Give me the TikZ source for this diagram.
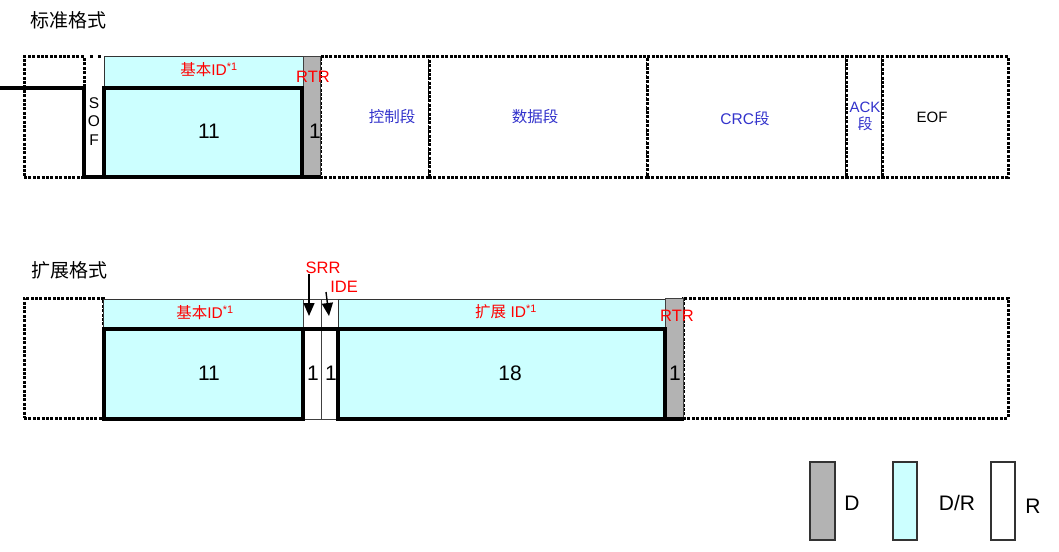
\documentclass[tikz,border=0pt]{standalone}
\usepackage{fontspec}
\setmainfont{Liberation Sans}
\newfontfamily\cjk{Noto Sans CJK SC}
\usetikzlibrary{fit,arrows.meta}
\definecolor{cyanfill}{HTML}{CCFFFF}
\definecolor{grayfill}{HTML}{B3B3B3}
\definecolor{bluetxt}{HTML}{3333CC}
\newcommand\bx[6]{\node[#1, fit={(#3,#4) (#5,#6)}] (#2) {};}
\begin{document}
\begin{tikzpicture}[x=1pt,y=-1pt,
  dotbox/.style={draw, line width=3pt, dash pattern=on 3pt off 1.4pt, inner sep=0pt, fill=white},
  band/.style={draw=black!80, line width=1pt, fill=cyanfill, inner sep=0pt},
  thickbox/.style={draw, line width=3.8pt, fill=cyanfill, inner sep=0pt},
  graycol/.style={draw=black!75, line width=1pt, fill=grayfill, inner sep=0pt},
  whitecol/.style={draw=black!75, line width=1pt, fill=white, inner sep=0pt},
  legbox/.style={draw=black!80, line width=1.3pt, inner sep=0pt},
  thickline/.style={line width=3.8pt},
  redlbl/.style={text=red, inner sep=0pt, font=\fontsize{15.5}{15.5}\selectfont},
  bluelbl/.style={text=bluetxt, inner sep=0pt, font=\fontsize{15.5}{15.5}\selectfont},
  numlbl/.style={inner sep=0pt, font=\fontsize{21}{21}\selectfont},
  titlelbl/.style={inner sep=0pt, anchor=west, font=\fontsize{19}{19}\selectfont\cjk},
  leglbl/.style={inner sep=0pt, font=\fontsize{21}{21}\selectfont},
  arr/.style={line width=1.4pt, -{Triangle[length=13pt,width=11pt]}}]
\useasboundingbox (0,0) rectangle (1059,551);

% ---------- standard format ----------
\node[titlelbl] (t1) at (30,20) {标准格式};
\bx{dotbox}{s0}{24}{57}{84}{177}
\bx{dotbox}{sctl}{320}{57}{429}{177}
\bx{dotbox}{sdat}{429}{57}{647}{177}
\bx{dotbox}{scrc}{647}{57}{846}{177}
\bx{dotbox}{sack}{846}{57}{882}{177}
\bx{dotbox}{seof}{882}{57}{1008}{177}
\bx{band}{sidband}{104}{57}{303}{87}
\bx{graycol}{srtr}{303}{57}{320}{177}
\bx{thickbox}{sid}{104}{88}{302}{177}
\draw[thickline] (0,88) -- (84,88) -- (84,177) -- (104,177);
\draw[thickline] (302,177) -- (321,177);
\draw[line width=3pt, dash pattern=on 3pt off 5pt] (90,57) -- (102,57);

\node[inner sep=0pt, font=\fontsize{15.5}{15.5}\selectfont] (sS) at (94,103) {S};
\node[inner sep=0pt, font=\fontsize{15.5}{15.5}\selectfont] (sO) at (94,121) {O};
\node[inner sep=0pt, font=\fontsize{15.5}{15.5}\selectfont] (sF) at (94,140) {F};
\node[redlbl] (sidl) at (209,70) {{\cjk 基本}ID\textsuperscript{*1}};
\node[redlbl, font=\fontsize{16.5}{16.5}\selectfont] (srtrl) at (313,77) {RTR};
\node[numlbl] (s11) at (209,131) {11};
\node[numlbl] (s1) at (315,131) {1};
\node[bluelbl] (sctll) at (392,117) {\cjk 控制段};
\node[bluelbl] (sdatl) at (535,117) {\cjk 数据段};
\node[bluelbl] (scrcl) at (745,119) {CRC{\cjk 段}};
\node[bluelbl, align=center, font=\fontsize{15}{17}\selectfont] (sackl) at (865,116) {ACK\\{\cjk 段}};
\node[inner sep=0pt, font=\fontsize{15}{15}\selectfont] (seofl) at (932,117) {EOF};

% ---------- extended format ----------
\node[titlelbl] (t2) at (31,270) {扩展格式};
\bx{dotbox}{e0}{24}{298}{103}{418}
\bx{dotbox}{erest}{683}{298}{1008}{418}
\bx{band}{eidband}{103}{299}{303}{328}
\bx{whitecol}{esrr}{303}{299}{321}{419}
\bx{whitecol}{eide}{321}{299}{338}{419}
\bx{band}{eextband}{338}{299}{665}{328}
\bx{graycol}{ertr}{665}{298}{683}{419}
\bx{thickbox}{eid}{104}{329}{303}{419}
\bx{thickbox}{eext}{338}{329}{665}{419}
\draw[thickline] (303,329) -- (338,329);
\draw[thickline] (664,419) -- (684,419);

\node[redlbl] (eidl) at (205,313) {{\cjk 基本}ID\textsuperscript{*1}};
\node[redlbl] (eextl) at (506,312) {{\cjk 扩展} ID\textsuperscript{*1}};
\node[redlbl, font=\fontsize{16.5}{16.5}\selectfont] (ertrl) at (677,316) {RTR};
\node[numlbl] (e11) at (209,373) {11};
\node[numlbl] (esrr1) at (313,373) {1};
\node[numlbl] (eide1) at (331,373) {1};
\node[numlbl] (e18) at (510,373) {18};
\node[numlbl] (ertr1) at (675,373) {1};

\node[redlbl, font=\fontsize{16.5}{16.5}\selectfont] (srrl) at (323,268) {SRR};
\node[redlbl, font=\fontsize{16.5}{16.5}\selectfont] (idel) at (344,287) {IDE};
\coordinate (srrtip) at (309,316);
\coordinate (idetail) at (326,292);
\coordinate (idetip) at (329,316);
\draw[arr] (srrl.south -| srrtip) -- (srrtip);
\draw[arr] (idetail) -- (idetip);

% ---------- legend ----------
\bx{legbox, fill=grayfill}{lgd}{810}{462}{835}{540}
\bx{legbox, fill=cyanfill}{lgdr}{893}{462}{917}{540}
\bx{legbox, fill=white}{lgr}{991}{462}{1015}{540}
\node[leglbl] (lgdl) at (852,503) {D};
\node[leglbl] (lgdrl) at (957,503) {D/R};
\node[leglbl] (lgrl) at (1033,506) {R};
\end{tikzpicture}
\end{document}
